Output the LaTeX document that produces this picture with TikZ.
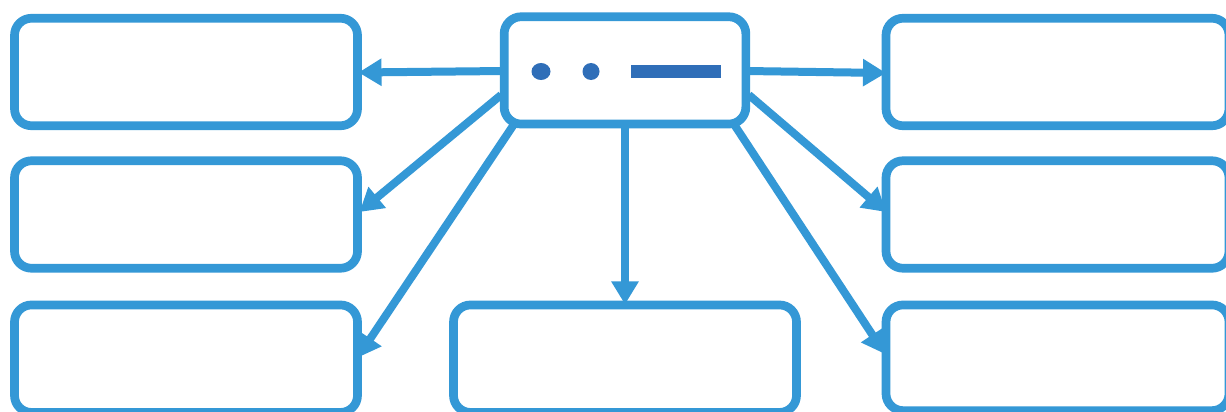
\documentclass[tikz,border=0pt]{standalone}
\usetikzlibrary{arrows.meta,calc,shapes.geometric}
\definecolor{linkblue}{HTML}{3498D6}
\definecolor{markblue}{HTML}{2F6EB8}
\tikzset{
  panel/.style={draw=linkblue,line width=8.7pt,rounded corners=17pt,outer sep=0pt,inner sep=0pt,minimum width=343pt,minimum height=107.5pt},
  link/.style={draw=linkblue,line width=8pt,-{Triangle[length=23pt,width=26pt]}},
  dotmark/.style={fill=markblue,ellipse,inner sep=0pt,outer sep=0pt},
}
\begin{document}
\begin{tikzpicture}[x=1pt,y=-1pt]
\useasboundingbox (0,0) rectangle (1226,412);
\clip (0,0) rectangle (1226,412);
\fill[white] (0,0) rectangle (1226,412);
\node[panel] (tl) at (186,72) {};
\node[panel] (ml) at (186,214.5) {};
\node[panel] (bl) at (186,358.7) {};
\node[panel] (tr) at (1057.5,72) {};
\node[panel] (mr) at (1057.5,214.5) {};
\node[panel,minimum height=105.7pt] (br) at (1057.5,357.8) {};
\node[panel] (bc) at (625,358.7) {};
\node[panel,minimum width=241.7pt,minimum height=107.3pt] (hub) at (625,70.4) {};
\node[dotmark,minimum width=19pt,minimum height=17pt] (d1) at (541,71.5) {};
\node[dotmark,minimum width=17pt,minimum height=17pt] (d2) at (591,71.5) {};
\node[fill=markblue,inner sep=0pt,outer sep=0pt,minimum width=90pt,minimum height=13pt] (bar) at (676,71.5) {};
\draw[link] ($(hub.west)+(0,0.6)$) -- ($(tl.east)+(1,0.5)$);
\draw[link] ($(hub.west)+(-3,24.5)$) -- ($(ml.east)+(2,-2.5)$);
\draw[link] ($(hub.south west)+(10,0)$) -- ($(bl.east)+(0,-1)$);
\draw[link] (hub.south) -- ($(bc.north)+(0,-0.5)$);
\draw[link] ($(hub.east)+(0,0.6)$) -- ($(tr.west)+(0,1)$);
\draw[link] ($(hub.east)+(3,24.5)$) -- ($(mr.west)+(0,-2.5)$);
\draw[link] ($(hub.south east)+(-12,0)$) -- ($(br.west)+(-1,-3.8)$);
\end{tikzpicture}
\end{document}
